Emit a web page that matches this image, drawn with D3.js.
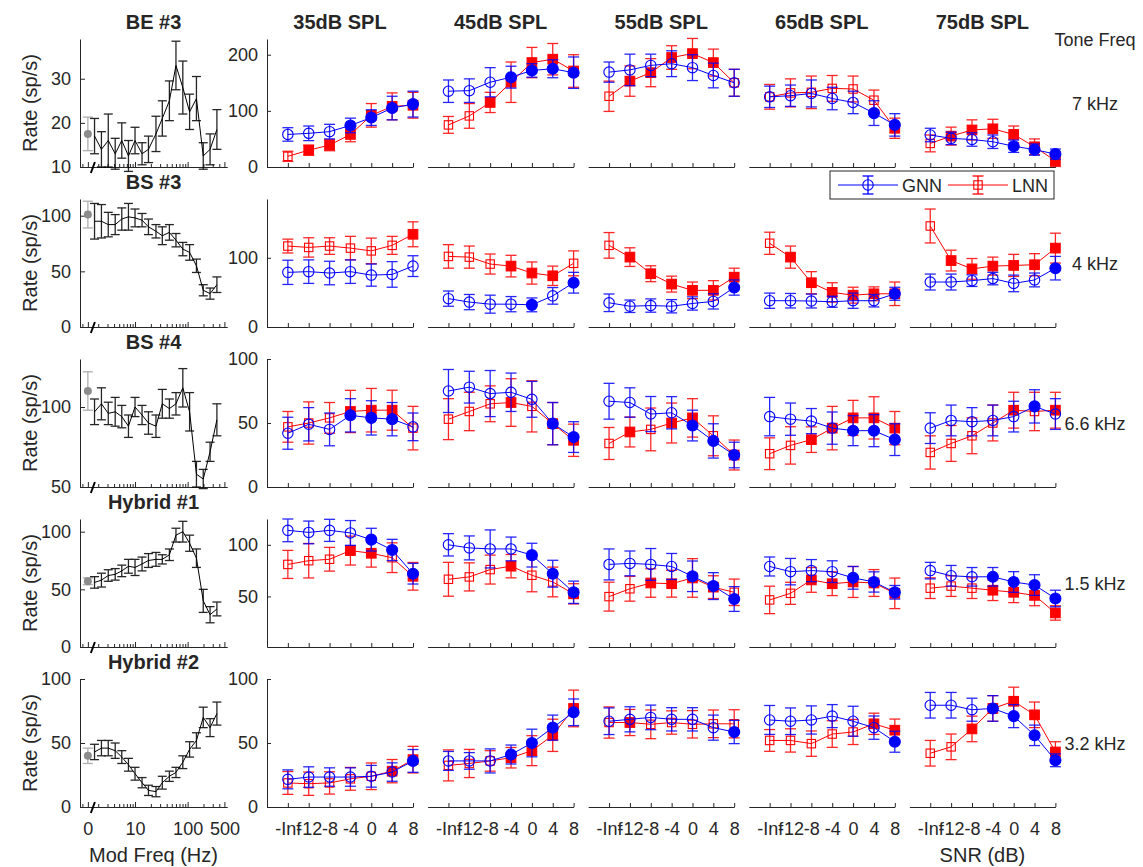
<!DOCTYPE html>
<html>
<head>
<meta charset="utf-8">
<script src="https://cdn.jsdelivr.net/npm/d3@7"></script>
<style>
  body { margin: 0; background: #fff; }
  text { font-family: "Liberation Sans", Arial, sans-serif; fill: #262626; }
</style>
</head>
<body>
<div id="chart"></div>
<script>
// ---------------- data ----------------
var units = ["BE #3", "BS #3", "BS #4", "Hybrid #1", "Hybrid #2"];
var levels = ["35dB SPL", "45dB SPL", "55dB SPL", "65dB SPL", "75dB SPL"];
var toneFreqs = ["7 kHz", "4 kHz", "6.6 kHz", "1.5 kHz", "3.2 kHz"];
var snrLabels = ["-Inf", "-12", "-8", "-4", "0", "4", "8"];
var snrValues = [-16, -12, -8, -4, 0, 4, 8]; // -Inf drawn one step left of -12

// modulation transfer functions (left column)
var modFreq = [1.7, 2.3, 3.1, 4.2, 5.6, 7.5, 10, 13.6, 18, 25, 33, 45, 60, 81, 109, 147, 198, 267, 360];
var mtfRate = [
  [17, 14, 16, 13, 16, 12.5, 16, 13, 14, 17.5, 21, 25, 33, 28, 22.5, 25.5, 12.5, 14, 18.5],
  [95, 95, 92, 92, 97, 99, 98, 96, 90, 86, 82, 85, 78, 70, 67, 55, 33, 30, 38],
  [97, 102, 96, 97, 94, 88, 100, 95, 90, 88, 102, 99, 102, 112, 97, 58, 55, 72, 92],
  [56, 58, 62, 63, 66, 70, 69, 72, 75, 76, 76, 80, 97, 100, 90, 77, 40, 28, 33],
  [43, 46, 46, 44, 39, 33, 26, 19, 13, 12, 19, 24, 27, 35, 45, 52, 70, 62, 73]
];
var mtfErr = [
  [4, 4, 6, 3.5, 4, 3.5, 3, 2.5, 3, 4, 4, 4.5, 5.5, 6, 4, 5, 3, 3.5, 4.5],
  [16, 15, 11, 9, 10, 12, 8, 6, 7, 6, 8, 7, 6, 6, 7, 6, 5, 5, 7],
  [8, 10, 7, 9, 7, 7, 6, 6, 7, 7, 9, 6, 7, 12, 12, 8, 6, 6, 10],
  [5, 6, 5, 5, 5, 6, 7, 6, 6, 6, 4, 5, 6, 9, 7, 8, 10, 7, 6],
  [6, 6, 6, 6, 5, 5, 5, 4, 4, 4, 5, 4, 4, 5, 6, 6, 8, 7, 9]
];
var mtfZero = [17.5, 101, 110, 57, 40];
var mtfZeroErr = [3.8, 12, 12, 3, 6];

// SNR curves: [unit][level][snr]
var gnnRate = [
  [[58, 60, 63, 74, 88, 105, 112], [135, 136, 151, 160, 172, 175, 168], [169, 173, 181, 184, 177, 163, 150], [125, 127, 131, 122, 115, 96, 75], [57, 51, 49, 45, 37, 31, 23]],
  [[79, 80, 78, 80, 75, 76, 88], [41, 36, 33, 33, 32, 45, 64], [35, 30, 31, 30, 34, 37, 57], [38, 38, 37.5, 36.5, 38, 38, 48], [65, 65, 67, 70, 63, 68, 85]],
  [[42, 49, 45, 56, 54, 53, 47], [75, 78, 73, 74, 68.5, 49.5, 39], [67, 66, 57, 58, 48, 36, 25], [55, 53, 51.5, 46, 44, 44, 37], [46, 52, 51, 52, 55, 63, 57]],
  [[114, 112, 114, 111.5, 105, 95, 72], [100, 97, 96, 96, 90, 72, 54], [81, 82, 81, 79, 69.5, 60, 47.5], [79, 74, 75, 74, 68, 64, 54], [75, 70, 69, 69, 64, 61, 48]],
  [[21.6, 23.4, 23.4, 23.4, 24, 27.3, 36], [36, 36, 36, 41, 50, 62, 74], [67, 68.5, 70, 68.5, 68.5, 62, 58.6], [68, 67, 68, 71, 67, 62, 51], [79.5, 79.5, 76, 77, 71, 56, 36.5]]
];
var gnnErr = [
  [[12, 13, 13, 13, 14, 21, 23], [20, 21, 26, 19.5, 12, 16, 28], [18, 28, 20, 23, 23, 22, 24], [19, 19, 24, 20, 20, 22, 20], [12, 11, 12, 12, 11, 10, 9]],
  [[17.5, 17, 17, 17, 16, 18.5, 15], [11, 11, 13, 11, 10, 12, 15], [12.7, 9, 9.6, 9.6, 9.6, 11, 11], [11, 10.5, 10, 8, 11, 9, 9.4], [11.5, 11.5, 8.4, 9, 12, 10, 17]],
  [[12.5, 13, 12.8, 13, 13.4, 13, 10.8], [16.8, 12.4, 18, 15, 14, 16.5, 12], [14, 11.5, 13.7, 12.6, 12, 13.4, 10], [15, 12.6, 9.8, 12.6, 11.7, 12.5, 12.4], [12, 12, 11, 12, 12, 13, 12]],
  [[11, 11, 10.7, 12, 11, 10.3, 10], [10.8, 11.6, 18.4, 11.5, 11.5, 13, 10.8], [15, 12, 15.4, 12.6, 14.8, 13, 12], [9.2, 12.8, 10.7, 10.5, 11, 9.8, 6.6], [8, 10, 9, 9, 10, 10, 8]],
  [[7.4, 8, 7.2, 7.2, 8.5, 7.2, 8.9], [7.4, 6.5, 9.4, 7.4, 10.8, 9.8, 10.4], [10.4, 9.8, 9.6, 9.1, 9.1, 9.8, 9.1], [11.3, 10.4, 11, 9, 11.7, 9.1, 8.2], [10, 10, 9, 10, 9, 8, 5]]
];
var gnnFill = [
  [[0, 0, 0, 1, 1, 1, 1], [0, 0, 0, 1, 1, 1, 1], [0, 0, 0, 0, 0, 0, 0], [0, 0, 0, 0, 0, 1, 1], [0, 0, 0, 0, 1, 1, 1]],
  [[0, 0, 0, 0, 0, 0, 0], [0, 0, 0, 0, 1, 0, 1], [0, 0, 0, 0, 0, 0, 1], [0, 0, 0, 0, 0, 0, 1], [0, 0, 0, 0, 0, 0, 1]],
  [[0, 0, 0, 1, 1, 1, 0], [0, 0, 0, 0, 0, 1, 1], [0, 0, 0, 0, 1, 1, 1], [0, 0, 0, 0, 1, 1, 1], [0, 0, 0, 0, 0, 1, 0]],
  [[0, 0, 0, 0, 1, 1, 1], [0, 0, 0, 0, 1, 1, 1], [0, 0, 0, 0, 1, 1, 1], [0, 0, 0, 0, 1, 1, 1], [0, 0, 0, 1, 1, 1, 1]],
  [[0, 0, 0, 0, 0, 0, 1], [0, 0, 0, 1, 1, 1, 1], [0, 0, 0, 0, 0, 0, 1], [0, 0, 0, 0, 0, 0, 1], [0, 0, 0, 1, 1, 1, 1]]
];
var lnnRate = [
  [[19, 30, 39, 58, 92, 108, 110], [75, 91, 115, 151, 186, 192, 171], [126, 153, 168, 195, 202, 186, 150], [125, 132, 133, 140, 139, 119, 69], [42, 55, 66, 68, 58, 36, 11]],
  [[117, 115, 117, 114, 110, 118, 134], [102, 101, 91, 88, 78, 74, 92], [118, 101, 77, 62, 53, 53, 72], [121, 101, 64, 50, 46, 48, 48], [146, 96, 84, 88, 89, 90, 114]],
  [[47, 50, 54, 59, 60, 60, 46], [53, 59, 65, 66, 63, 49.5, 36.5], [34, 43, 45, 50, 54, 40, 25], [26, 32.5, 37, 46, 54, 54, 46], [27, 34, 40, 50, 60, 59, 60]],
  [[81, 84.6, 86, 94.4, 91.8, 87.5, 69.5], [66.6, 68.9, 76, 79.3, 70.5, 64, 52.5], [49.8, 57.4, 63, 62.3, 67.9, 59, 54], [46.6, 53, 66, 62.3, 64, 63, 53], [58, 60, 58, 56, 54, 51, 34]],
  [[18.8, 18.2, 18.8, 22, 24, 28, 37], [32.5, 34, 36, 38.5, 44, 56, 77], [66, 66, 64.6, 66, 64.6, 65, 65], [52, 52, 49.5, 57, 58.6, 65, 60], [42, 47, 61, 77, 82.6, 72, 43]]
];
var lnnErr = [
  [[9, 9, 10, 13, 21, 24, 23], [15, 22, 18, 36, 27, 28, 29], [27, 27, 25, 21, 27, 24, 24], [22, 25, 29, 23, 23, 18, 18], [15, 16, 18, 17, 15, 14, 10]],
  [[10, 14, 12, 17, 18.5, 13, 18], [17, 16, 14.5, 15.6, 16, 14, 18], [18.5, 13.5, 11.5, 11.5, 12, 14, 13], [16, 16, 16, 14, 11.5, 10, 17], [24.5, 15, 15, 13, 16, 16, 21.6]],
  [[12, 16.5, 12, 16.5, 17, 15.6, 17], [16, 15, 14, 18.6, 20, 16.5, 12.6], [12.5, 11.7, 16.7, 15.6, 15, 15.6, 11.7], [12.4, 14.6, 10, 17, 13.7, 16.5, 13], [13, 14, 14, 14, 14, 15, 14]],
  [[13.6, 16.7, 11.5, 14, 13.4, 14.4, 13.4], [16.4, 13.6, 14, 11.3, 16, 14.4, 9.8], [14, 12, 13.8, 13, 18.7, 11, 12.8], [13.3, 10.7, 12, 11.5, 15, 13, 14.8], [10, 10, 10, 10, 10, 10, 7]],
  [[8.9, 9.1, 8.7, 8.9, 10.4, 9.1, 10.4], [12.1, 11, 8, 8, 11.7, 12.6, 14.3], [12.2, 10.2, 11.2, 9.1, 10.7, 10.8, 11], [8.5, 9.1, 9.9, 10.4, 9.8, 8.3, 8.7], [10, 10, 10, 10, 11, 10, 8]]
];
var lnnFill = [
  [[0, 1, 1, 1, 1, 1, 1], [0, 0, 1, 1, 1, 1, 1], [0, 1, 1, 1, 1, 1, 0], [0, 0, 0, 0, 0, 0, 1], [0, 1, 1, 1, 1, 1, 1]],
  [[0, 0, 0, 0, 0, 0, 1], [0, 0, 0, 1, 1, 1, 0], [0, 1, 1, 1, 1, 1, 1], [0, 1, 1, 1, 1, 1, 1], [0, 1, 1, 1, 1, 1, 1]],
  [[0, 0, 0, 1, 1, 1, 0], [0, 0, 0, 1, 0, 1, 1], [0, 1, 0, 1, 1, 0, 1], [0, 0, 1, 1, 1, 1, 1], [0, 0, 0, 0, 1, 0, 1]],
  [[0, 0, 0, 1, 1, 0, 1], [0, 0, 0, 1, 0, 0, 1], [0, 0, 1, 1, 1, 1, 0], [0, 0, 1, 1, 1, 1, 1], [0, 0, 0, 1, 1, 1, 1]],
  [[0, 0, 0, 0, 0, 1, 1], [0, 0, 0, 1, 1, 1, 1], [0, 1, 0, 0, 0, 0, 0], [0, 0, 0, 0, 0, 1, 1], [0, 0, 1, 1, 1, 1, 1]]
];

// axis settings per row
var mtfYDomain = [[10, 39], [0, 115], [50, 130], [0, 111], [0, 100]];
var mtfYTicks = [[10, 20, 30], [0, 50, 100], [50, 100], [0, 50, 100], [0, 50, 100]];
var snrYDomain = [[0, 228], [0, 185], [0, 100], [1, 125], [0, 100]];
var snrYTicks = [[0, 100, 200], [0, 100], [0, 50, 100], [50, 100], [0, 50, 100]];

// ---------------- layout ----------------
var W = 1143, H = 867;
var rowTop = 39, rowStep = 160, plotH = 128;
var mtfLeft = 80, mtfW = 147;
var snrLeft = 267, colStep = 160.6, snrW = 146;
var zeroPos = 1.27; // where the 0 Hz point sits on the log axis
var axisColor = "#262626";
var blue = "#0000ff", red = "#ff0000";

var svg = d3.select("#chart").append("svg")
  .attr("width", W)
  .attr("height", H);

function styleAxis(g, fontSize) {
  g.select(".domain").attr("stroke", axisColor);
  g.selectAll(".tick line").attr("stroke", axisColor);
  g.selectAll(".tick text")
    .attr("fill", axisColor)
    .style("font-size", fontSize + "px")
    .style("font-family", "'Liberation Sans', Arial, sans-serif");
}

// error bars + line + markers for one series
function drawSeries(g, x, y, xs, vals, errs, fills, color, shape, cap) {
  var pts = xs.map(function(xv, i) { return { x: xv, v: vals[i], e: errs[i], f: fills[i] }; });

  var eb = g.append("g").attr("stroke", color).attr("stroke-width", 1.3).attr("opacity", 0.85);
  eb.selectAll("line.v").data(pts).enter().append("line")
    .attr("x1", function(d) { return x(d.x); })
    .attr("x2", function(d) { return x(d.x); })
    .attr("y1", function(d) { return y(d.v - d.e); })
    .attr("y2", function(d) { return y(d.v + d.e); });
  eb.selectAll("line.t").data(pts).enter().append("line")
    .attr("x1", function(d) { return x(d.x) - cap; })
    .attr("x2", function(d) { return x(d.x) + cap; })
    .attr("y1", function(d) { return y(d.v + d.e); })
    .attr("y2", function(d) { return y(d.v + d.e); });
  eb.selectAll("line.b").data(pts).enter().append("line")
    .attr("x1", function(d) { return x(d.x) - cap; })
    .attr("x2", function(d) { return x(d.x) + cap; })
    .attr("y1", function(d) { return y(d.v - d.e); })
    .attr("y2", function(d) { return y(d.v - d.e); });

  g.append("path")
    .datum(pts)
    .attr("fill", "none")
    .attr("stroke", color)
    .attr("stroke-width", 1)
    .attr("d", d3.line().x(function(d) { return x(d.x); }).y(function(d) { return y(d.v); }));

  if (shape === "circle") {
    g.selectAll("circle.m").data(pts).enter().append("circle")
      .attr("cx", function(d) { return x(d.x); })
      .attr("cy", function(d) { return y(d.v); })
      .attr("r", function(d) { return d.f ? 5.5 : 5.2; })
      .attr("fill", function(d) { return d.f ? color : "none"; })
      .attr("stroke", color)
      .attr("stroke-width", 1.1);
  } else if (shape === "square") {
    g.selectAll("rect.m").data(pts).enter().append("rect")
      .attr("x", function(d) { return x(d.x) - (d.f ? 4.8 : 4.2); })
      .attr("y", function(d) { return y(d.v) - (d.f ? 4.8 : 4.2); })
      .attr("width", function(d) { return d.f ? 9.6 : 8.4; })
      .attr("height", function(d) { return d.f ? 9.6 : 8.4; })
      .attr("fill", function(d) { return d.f ? color : "none"; })
      .attr("stroke", color)
      .attr("stroke-width", 1.1);
  }
}

var xMtf = d3.scaleLog().domain([0.9, 560]).range([mtfLeft, mtfLeft + mtfW]);
var mtfMajor = [zeroPos, 10, 100, 500];
var mtfMinor = [1, 2, 3, 4, 5, 6, 7, 8, 9, 20, 30, 40, 50, 60, 70, 80, 90, 200, 300, 400];

units.forEach(function(unit, r) {
  var top = rowTop + r * rowStep, bottom = top + plotH;
  var last = r === units.length - 1;

  // ----- MTF panel -----
  var yM = d3.scaleLinear().domain(mtfYDomain[r]).range([bottom, top]);
  var gM = svg.append("g");

  gM.append("g")
    .attr("transform", "translate(0," + bottom + ")")
    .call(d3.axisBottom(xMtf).tickValues(mtfMinor).tickSizeInner(-3).tickSizeOuter(0).tickFormat(""))
    .call(styleAxis, 18);
  gM.append("g")
    .attr("transform", "translate(0," + bottom + ")")
    .call(d3.axisBottom(xMtf).tickValues(mtfMajor).tickSizeInner(-5).tickSizeOuter(0).tickPadding(15)
      .tickFormat(function(d) { return last ? (d === zeroPos ? "0" : d) : ""; }))
    .call(styleAxis, 18);
  gM.append("g")
    .attr("transform", "translate(" + mtfLeft + ",0)")
    .call(d3.axisLeft(yM).tickValues(mtfYTicks[r]).tickSizeInner(-5).tickSizeOuter(0).tickPadding(9))
    .call(styleAxis, 18);

  // axis break mark
  gM.append("line")
    .attr("x1", xMtf(zeroPos) + 3).attr("y1", bottom + 6)
    .attr("x2", xMtf(zeroPos) + 7).attr("y2", bottom - 5)
    .attr("stroke", "#000").attr("stroke-width", 2);

  // 0 Hz point
  drawSeries(gM, xMtf, yM, [zeroPos], [mtfZero[r]], [mtfZeroErr[r]], [1], "#a0a0a0", "none", 5);
  gM.append("circle")
    .attr("cx", xMtf(zeroPos)).attr("cy", yM(mtfZero[r])).attr("r", 4)
    .attr("fill", "#8c8c8c");
  drawSeries(gM, xMtf, yM, modFreq, mtfRate[r], mtfErr[r], modFreq.map(function() { return 0; }), "#000", "none", 4.5);

  gM.append("text")
    .attr("x", mtfLeft + mtfW / 2).attr("y", top - 10)
    .attr("text-anchor", "middle")
    .style("font-size", "20px").style("font-weight", "bold")
    .attr("fill", "#000")
    .text(unit);

  gM.append("text")
    .attr("transform", "translate(37," + (top + plotH / 2) + ") rotate(-90)")
    .attr("text-anchor", "middle")
    .style("font-size", "20px")
    .text("Rate (sp/s)");

  // ----- SNR panels -----
  var yS = d3.scaleLinear().domain(snrYDomain[r]).range([bottom, top]);
  levels.forEach(function(level, c) {
    var x0 = snrLeft + c * colStep;
    var xS = d3.scaleLinear().domain([-20, 8]).range([x0, x0 + snrW]);
    var g = svg.append("g");

    g.append("g")
      .attr("transform", "translate(0," + bottom + ")")
      .call(d3.axisBottom(xS).tickValues(snrValues).tickSizeInner(-4).tickSizeOuter(0).tickPadding(15)
        .tickFormat(function(d, i) { return last ? snrLabels[i] : ""; }))
      .call(styleAxis, 18);

    if (c === 0) {
      g.append("g")
        .attr("transform", "translate(" + x0 + ",0)")
        .call(d3.axisLeft(yS).tickValues(snrYTicks[r]).tickSizeInner(-4).tickSizeOuter(0).tickPadding(9))
        .call(styleAxis, 18);
    }

    drawSeries(g, xS, yS, snrValues, lnnRate[r][c], lnnErr[r][c], lnnFill[r][c], red, "square", 5.5);
    drawSeries(g, xS, yS, snrValues, gnnRate[r][c], gnnErr[r][c], gnnFill[r][c], blue, "circle", 5.5);

    if (r === 0) {
      g.append("text")
        .attr("x", x0 + snrW / 2).attr("y", top - 10)
        .attr("text-anchor", "middle")
        .style("font-size", "20px").style("font-weight", "bold")
        .attr("fill", "#000")
        .text(level);
    }
  });

  // tone frequency on the right
  svg.append("text")
    .attr("x", 1095).attr("y", top + plotH / 2 + 7)
    .attr("text-anchor", "middle")
    .style("font-size", "18px")
    .attr("fill", "#000")
    .text(toneFreqs[r]);
});

svg.append("text")
  .attr("x", 1095).attr("y", 46)
  .attr("text-anchor", "middle")
  .style("font-size", "18px")
  .attr("fill", "#000")
  .text("Tone Freq");

// x labels
svg.append("text")
  .attr("x", mtfLeft + mtfW / 2).attr("y", 862)
  .attr("text-anchor", "middle")
  .style("font-size", "20px")
  .text("Mod Freq (Hz)");
svg.append("text")
  .attr("x", snrLeft + 4 * colStep + snrW / 2).attr("y", 862)
  .attr("text-anchor", "middle")
  .style("font-size", "20px")
  .text("SNR (dB)");

// legend
var lg = svg.append("g");
lg.append("rect")
  .attr("x", 830).attr("y", 171).attr("width", 224).attr("height", 28)
  .attr("fill", "#fff").attr("stroke", axisColor).attr("stroke-width", 1);
var legendItems = [
  { name: "GNN", color: blue, shape: "circle", x1: 838 },
  { name: "LNN", color: red, shape: "square", x1: 948 }
];
legendItems.forEach(function(it) {
  var cx = it.x1 + 30, cy = 185;
  lg.append("line").attr("x1", it.x1).attr("x2", it.x1 + 60).attr("y1", cy).attr("y2", cy)
    .attr("stroke", it.color).attr("stroke-width", 1);
  lg.append("line").attr("x1", cx).attr("x2", cx).attr("y1", cy - 9).attr("y2", cy + 9)
    .attr("stroke", it.color).attr("stroke-width", 1.3);
  [cy - 9, cy + 9].forEach(function(yy) {
    lg.append("line").attr("x1", cx - 5.5).attr("x2", cx + 5.5).attr("y1", yy).attr("y2", yy)
      .attr("stroke", it.color).attr("stroke-width", 1.3);
  });
  if (it.shape === "circle") {
    lg.append("circle").attr("cx", cx).attr("cy", cy).attr("r", 5.2)
      .attr("fill", "none").attr("stroke", it.color).attr("stroke-width", 1.1);
  } else {
    lg.append("rect").attr("x", cx - 4.2).attr("y", cy - 4.2).attr("width", 8.4).attr("height", 8.4)
      .attr("fill", "none").attr("stroke", it.color).attr("stroke-width", 1.1);
  }
  lg.append("text").attr("x", it.x1 + 64).attr("y", cy + 6.5)
    .style("font-size", "18px").attr("fill", "#000")
    .text(it.name);
});
</script>
</body>
</html>
